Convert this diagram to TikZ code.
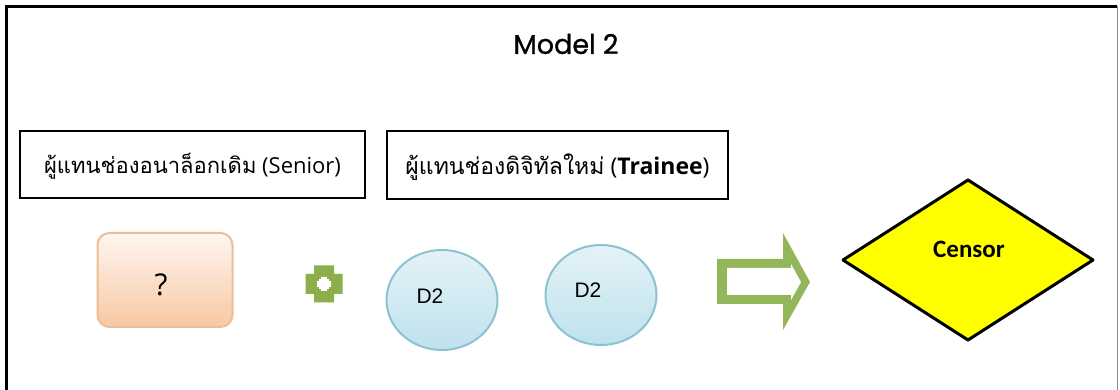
\documentclass[tikz,border=0pt]{standalone}
\usepackage{fontspec}
\setmainfont{Open Sans}
\newfontfamily\thaifont[Script=Thai]{Loma}
\newfontfamily\titlefont[FakeBold=1]{Poppins}
\newfontfamily\calfont{Carlito}
\newfontfamily\arialfont{Liberation Sans}
\usetikzlibrary{shapes.geometric}
\definecolor{plusgreen}{HTML}{8CAF4B}
\definecolor{arrowgreen}{HTML}{94B65A}
\definecolor{discedge}{HTML}{8CC2D2}
\definecolor{disctop}{HTML}{E4F2F7}
\definecolor{discbot}{HTML}{BFE2EC}
\definecolor{qedge}{HTML}{EDBE96}
\definecolor{qtop}{HTML}{FEF6F1}
\definecolor{qbot}{HTML}{F8C8A3}
\definecolor{censoryellow}{HTML}{FFFF00}
\tikzset{
  labelbox/.style={draw=black, line width=1.3pt, inner sep=0pt, fill=white},
  qbox/.style={rectangle, rounded corners=12pt, draw=qedge, line width=2pt,
    top color=qtop, bottom color=qbot, minimum width=135pt, minimum height=94pt,
    inner sep=0pt},
  disc/.style={ellipse, draw=discedge, line width=2pt, top color=disctop,
    bottom color=discbot, minimum width=111pt, minimum height=100pt, inner sep=0pt},
  disctext/.style={font=\arialfont\fontsize{21}{24}\selectfont, inner sep=0pt},
}
\begin{document}
\begin{tikzpicture}[x=1pt,y=-1pt]
\useasboundingbox (0,0) rectangle (1120,390);
\fill[white] (0,0) rectangle (1120,390);
% frame
\draw[line width=3.5pt] (6.5,390) -- (6.5,6.5) -- (1117,6.5);
\draw[black!45, line width=1pt] (1117.5,6.5) -- (1117.5,390);
% title
\node[font=\titlefont\fontsize{27}{32}\selectfont, inner sep=0pt] (title) at (566,44) {Model 2};
% label boxes
\node[labelbox, minimum width=345pt, minimum height=67pt] (senior) at (192.5,164.5) {};
\node[font=\fontsize{22}{26}\selectfont, inner sep=0pt] (seniortext) at ([yshift=-2pt]senior.center)
  {{\thaifont ผู้แทนช่องอนาล็อกเดิม} (Senior)};
\node[labelbox, minimum width=341pt, minimum height=68pt] (trainee) at (557.5,165) {};
\node[font=\fontsize{23}{27}\selectfont, inner sep=0pt] (traineetext) at ([yshift=-2pt]trainee.center)
  {{\thaifont ผู้แทนช่องดิจิทัลใหม่} (\textbf{Trainee})};
% question box
\node[qbox] (q) at (165,280) {};
\node[font=\fontsize{30}{34}\selectfont, inner sep=0pt] (qt) at ([xshift=-4pt,yshift=-5pt]q.center) {?};
% plus sign
\coordinate (plus) at (324,284);
\begin{scope}[shift={(plus)}]
  \fill[plusgreen] (-10,-18.5) -- (10,-18.5) -- (10,-10) -- (18.5,-10) -- (18.5,10)
    -- (10,10) -- (10,18.5) -- (-10,18.5) -- (-10,10) -- (-18.5,10) -- (-18.5,-10)
    -- (-10,-10) -- cycle;
  \fill[white] (-3,-7) -- (3,-7) -- (3,-3) -- (7,-3) -- (7,3) -- (3,3) -- (3,7)
    -- (-3,7) -- (-3,3) -- (-7,3) -- (-7,-3) -- (-3,-3) -- cycle;
  \fill[white] (-5,-5) rectangle (5,5);
\end{scope}
% discs
\node[disc] (d1) at (442,300) {};
\node[disctext] (d1t) at ([xshift=-12pt,yshift=4pt]d1.center) {D2};
\node[disc] (d2) at (601,295) {};
\node[disctext] (d2t) at ([xshift=-13pt,yshift=5pt]d2.center) {D2};
% block arrow
\coordinate (arrow) at (763,282);
\fill[arrowgreen] (717,259) -- (783,259) -- (783,233) -- (810,282) -- (783,330)
  -- (783,304) -- (717,304) -- cycle;
\fill[white] (727,268) -- (791,268) -- (791,264) -- (801,282) -- (791,300)
  -- (791,295) -- (727,295) -- cycle;
% decision diamond
\coordinate (dia) at (968,260);
\filldraw[fill=censoryellow, draw=black, line width=3pt, line join=round]
  (843,260) -- (968,180) -- (1093,260) -- (968,340) -- cycle;
\node[font=\calfont\bfseries\fontsize{25}{29}\selectfont, inner sep=0pt] (censor)
  at (969,249) {Censor};
\end{tikzpicture}
\end{document}
